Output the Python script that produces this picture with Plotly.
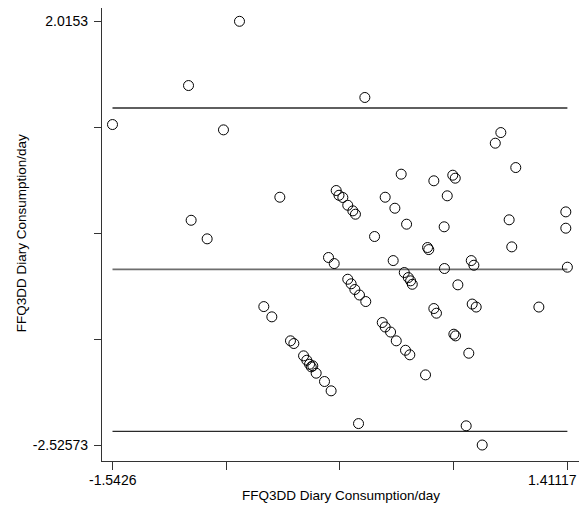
import numpy as np
import plotly.graph_objects as go

# Mean consumption (x) and difference FFQ - 3DD diary (y), per day
mean_consumption = [
    -0.718, -1.049, -1.5426, -0.822, 0.096, 0.979, 0.943, -1.032, -0.928, -0.456,
    -0.090, -0.072, -0.047, -0.015, 0.018, 0.035, -0.140, -0.103, -0.560, -0.508,
    0.332, 0.544, 0.667, 0.683, 1.076, 0.228, 0.291, 0.631, 0.367, 0.611,
    0.159, 1.033, 1.401, 1.401, 0.503, 0.511, 1.050, 0.280, 0.787, 0.804,
    0.613, 1.41117, 0.352, 0.378, 0.393, 0.404, 0.700, -0.015, 0.007, 0.031,
    0.061, 0.102, 0.544, 0.561, 0.793, 0.819, 1.226, 0.209, 0.228, 0.263,
    0.300, 0.360, 0.388, 0.490, 0.674, 0.685, 0.771, -0.387, -0.365, -0.302,
    -0.281, -0.263, -0.252, -0.242, -0.220, -0.166, -0.123, 0.055, 0.754, 0.858,
]
difference = [
    2.0153, 1.327, 0.909, 0.852, 1.199, 0.823, 0.709, -0.117, -0.316, 0.130,
    0.202, 0.151, 0.127, 0.044, -0.016, -0.052, -0.516, -0.581, -1.042, -1.152,
    0.377, 0.306, 0.366, 0.334, 0.448, 0.130, 0.012, 0.145, -0.159, -0.187,
    -0.291, -0.112, -0.027, -0.202, -0.409, -0.431, -0.402, -0.549, -0.549, -0.599,
    -0.634, -0.620, -0.677, -0.731, -0.766, -0.803, -0.809, -0.749, -0.798, -0.859,
    -0.918, -0.988, -1.063, -1.113, -1.015, -1.047, -1.047, -1.213, -1.261, -1.315,
    -1.409, -1.510, -1.559, -1.774, -1.338, -1.356, -1.542, -1.409, -1.438, -1.570,
    -1.617, -1.660, -1.688, -1.677, -1.756, -1.845, -1.945, -2.296, -2.320, -2.52573,
]

# Mean difference and limits of agreement
mean_diff = -0.643
upper_loa = 1.086
lower_loa = -2.379

axis_title = "FFQ3DD Diary Consumption/day"
x_tick_labels = ["-1.5426", "1.41117"]
y_tick_labels = ["-2.52573", "2.0153"]

FONT = "Liberation Sans, Arial, sans-serif"
TICK_SIZE = 14
TITLE_SIZE = 13.5

x = np.array(mean_consumption)
y = np.array(difference)
xmin, xmax = x.min(), x.max()
ymin, ymax = y.min(), y.max()

x_ticks = np.linspace(xmin, xmax, 5)
y_ticks = np.linspace(ymin, ymax, 5)

fig = go.Figure()

for level, color, width in [(upper_loa, "#2a2a2a", 1.3),
                            (mean_diff, "#6e6e6e", 1.6),
                            (lower_loa, "#2a2a2a", 1.3)]:
    fig.add_trace(go.Scatter(
        x=[xmin, xmax], y=[level, level], mode="lines",
        line=dict(color=color, width=width), hoverinfo="skip", showlegend=False,
    ))

fig.add_trace(go.Scatter(
    x=x, y=y, mode="markers",
    marker=dict(symbol="circle-open", size=10, color="black",
                line=dict(color="black", width=1)),
    showlegend=False,
))

fig.update_xaxes(
    range=[-1.6108, 1.4866], showgrid=False, zeroline=False,
    showline=True, linecolor="#333333", linewidth=1.2,
    tickmode="array", tickvals=x_ticks, ticktext=[""] * 5,
    ticks="outside", ticklen=8, tickwidth=1.2, tickcolor="#333333",
)
fig.update_yaxes(
    range=[-2.697, 2.158], showgrid=False, zeroline=False,
    showline=True, linecolor="#333333", linewidth=1.2,
    tickmode="array", tickvals=y_ticks,
    ticktext=[y_tick_labels[0], "", "", "", y_tick_labels[1]],
    ticks="outside", ticklen=7, tickwidth=1.2, tickcolor="#333333",
    ticklabelstandoff=3,
    tickfont=dict(family=FONT, size=TICK_SIZE, color="black"),
)

annotations = [
    dict(x=xmin, y=0, xref="x", yref="paper", text=x_tick_labels[0],
         showarrow=False, xanchor="center", yanchor="middle", yshift=-19,
         font=dict(family=FONT, size=TICK_SIZE, color="black")),
    dict(x=xmax, y=0, xref="x", yref="paper", text=x_tick_labels[1],
         showarrow=False, xanchor="right", yanchor="middle", yshift=-19, xshift=12,
         font=dict(family=FONT, size=TICK_SIZE, color="black")),
    dict(x=0.501, y=0, xref="paper", yref="paper", text=axis_title,
         showarrow=False, xanchor="center", yanchor="middle", yshift=-34,
         font=dict(family=FONT, size=TITLE_SIZE, color="black")),
    dict(x=0, y=0.5027, xref="paper", yref="paper", text=axis_title,
         showarrow=False, xanchor="center", yanchor="middle", xshift=-81,
         textangle=-90, font=dict(family=FONT, size=TITLE_SIZE, color="black")),
]

fig.update_layout(
    width=579, height=512,
    margin=dict(l=102, r=0, t=8, b=51),
    paper_bgcolor="white", plot_bgcolor="white",
    annotations=annotations,
    showlegend=False,
)

fig.write_html("out.html")
